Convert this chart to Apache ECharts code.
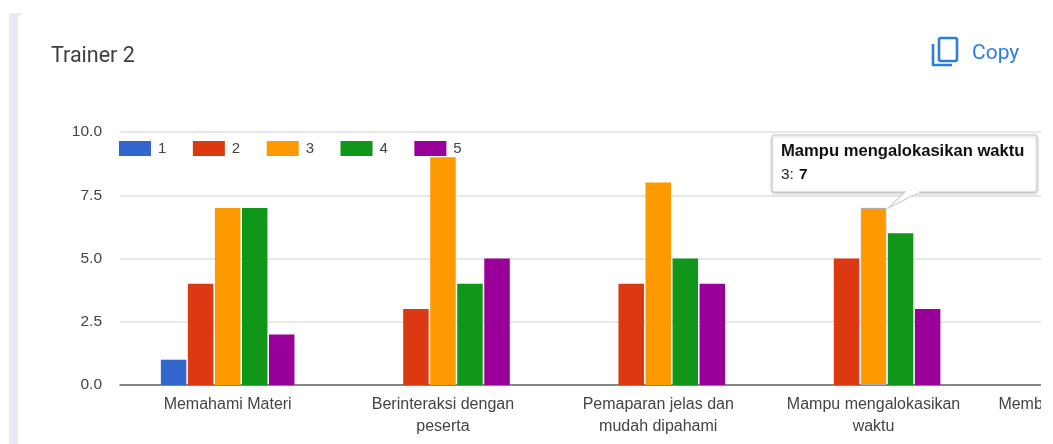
<!DOCTYPE html>
<html><head><meta charset="utf-8">
<style>
html,body{margin:0;padding:0;background:#fff;width:1053px;height:444px;overflow:hidden}
#strip{position:absolute;left:9px;top:13px;width:40px;height:431px;background:#ebe9f6}
#card{position:absolute;left:18px;top:13px;width:40px;height:431px;background:#fff;border-top-left-radius:7px}
#clip{position:absolute;left:0;top:0;width:1041px;height:444px;overflow:hidden}
#chart{width:1300px;height:444px}
</style>
<script src="https://cdn.jsdelivr.net/npm/echarts@6/dist/echarts.min.js"></script>
</head><body>
<div id="strip"></div><div id="card"></div>
<div id="clip"><div id="chart"></div></div>
<script>
const categories = ['Memahami Materi','Berinteraksi dengan\npeserta','Pemaparan jelas dan\nmudah dipahami','Mampu mengalokasikan\nwaktu','Memb'];
const seriesNames = ['1','2','3','4','5'];
const values1 = [1,null,null,null,null];
const values2 = [4,3,4,5,null];
const values3 = [7,9,8,7,null];
const values4 = [7,4,5,6,null];
const values5 = [2,5,4,3,null];
const colors = ['#3366cc','#dc3912','#ff9900','#109618','#990099'];
const yTicks = {min:0,max:10,interval:2.5};
const tipCategory = 3, tipSeries = 2;

const FONT = '"Liberation Sans",Arial,sans-serif';
const chart = echarts.init(document.getElementById('chart'),null,{renderer:'canvas'});
const all = [values1,values2,values3,values4,values5];
chart.setOption({
  animation:false,
  backgroundColor:'transparent',
  title:{text:'Trainer 2',left:46,top:41,textStyle:{fontFamily:'Roboto',fontSize:21.5,fontWeight:400,color:'#3c4043'}},
  legend:{left:114,top:136,itemWidth:32,itemHeight:15,itemGap:26.5,icon:'rect',selectedMode:false,
    textStyle:{fontFamily:FONT,fontSize:15,color:'#444',padding:[1,0,0,2]}},
  grid:{left:120,top:132,width:1076.5,height:253,containLabel:false},
  xAxis:{type:'category',data:categories.map((c,i)=> i===4
      ? {value:c,textStyle:{align:'right',padding:[0,46,0,0]}} : c),
    axisTick:{show:false},
    axisLine:{lineStyle:{color:'#666',width:1.5}},
    axisLabel:{interval:0,fontFamily:FONT,fontSize:16,color:'#444',lineHeight:22,margin:9}},
  yAxis:{type:'value',min:yTicks.min,max:yTicks.max,interval:yTicks.interval,
    axisLine:{show:false},axisTick:{show:false},
    splitLine:{lineStyle:{color:'#e0e0e0',width:1.5}},
    axisLabel:{fontFamily:FONT,fontSize:15.5,color:'#444',margin:18,padding:[2,0,0,0],formatter:v=>v.toFixed(1)}},
  series:all.map((vals,s)=>({
    name:seriesNames[s],type:'bar',barWidth:25.5,barGap:'6%',
    itemStyle:{color:colors[s]},
    data:vals.map((v,c)=> (s===tipSeries&&c===tipCategory)
      ? {value:v,itemStyle:{color:colors[s],borderColor:'#aaa',borderWidth:1}} : v)
  }))
});
const p = chart.convertToPixel({xAxisIndex:0,yAxisIndex:0},[tipCategory,all[tipSeries][tipCategory]]);
const boxL=772,boxT=135,boxW=265,boxH=57;
chart.setOption({graphic:[
  {type:'rect',shape:{x:boxL,y:boxT,width:boxW,height:boxH,r:2},z:100,
    style:{fill:'#fff',stroke:'#ccc',lineWidth:1,shadowBlur:3,shadowColor:'rgba(0,0,0,.25)',shadowOffsetY:1}},
  {type:'polyline',shape:{points:[[905,boxT+boxH],[p[0]+15,p[1]],[920,boxT+boxH]]},z:101,
    style:{fill:'#fff',stroke:'#d0d0d0',lineWidth:1.2}},
  {type:'line',shape:{x1:906,y1:boxT+boxH,x2:919,y2:boxT+boxH},z:102,style:{stroke:'#fff',lineWidth:2}},
  {type:'text',x:781,y:143,z:103,style:{text:'Mampu mengalokasikan waktu',fontFamily:FONT,fontSize:16.6,fontWeight:'bold',fill:'#111'}},
  {type:'text',x:781,y:167,z:103,style:{text:'3:',fontFamily:FONT,fontSize:15.5,fill:'#222'}},
  {type:'text',x:799,y:167,z:103,style:{text:'7',fontFamily:FONT,fontSize:15.5,fontWeight:'bold',fill:'#111'}},
  {type:'rect',shape:{x:939,y:38,width:18,height:23,r:2},z:10,style:{fill:'none',stroke:'#2a7de1',lineWidth:2.6}},
  {type:'polyline',shape:{points:[[933,44],[933,65],[952,65]]},z:10,style:{fill:'none',stroke:'#2a7de1',lineWidth:2.6,lineJoin:'round'}},
  {type:'text',x:972,y:43,z:10,style:{text:'Copy',fontFamily:'Roboto',fontSize:21,fontWeight:400,fill:'#2a7de1'}}
]});
</script>
</body></html>
